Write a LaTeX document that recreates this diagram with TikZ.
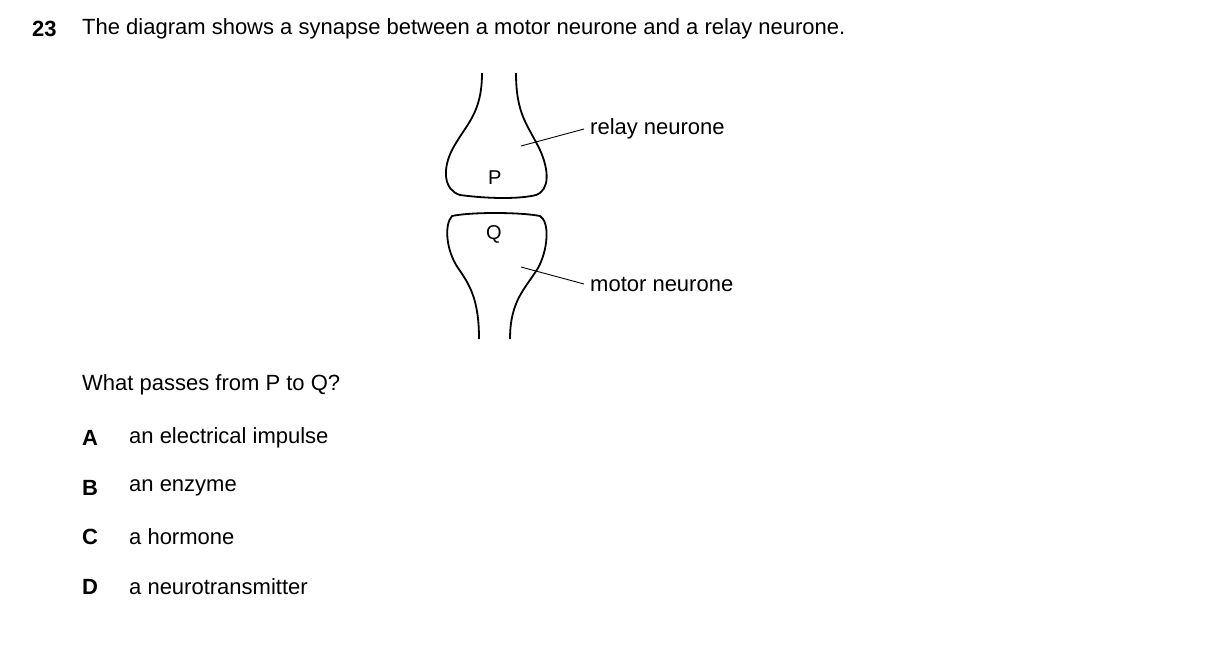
\documentclass[tikz,border=0pt]{standalone}
\usepackage{fontspec}
\setmainfont{Liberation Sans}
\usetikzlibrary{positioning}

\begin{document}
\begin{tikzpicture}[x=1pt, y=-1pt, txt/.style={anchor=west, inner sep=0pt, font=\fontsize{22}{26}\selectfont}, outline/.style={line width=1.8pt, line join=round}, pointer/.style={line width=0.9pt}]
    \useasboundingbox (0,0) rectangle (1209,651);

    %Text
    \node[txt](num) at (32,29){\textbf{23}};
    \node[txt](question) at (82,29){The diagram shows a synapse between a motor neurone and a relay neurone.};
    \node[txt](ask) at (82,385){What passes from P to Q?};
    \node[txt](A) at (82,438){\textbf{A}};
    \node[txt](Ans) at (129,438){an electrical impulse};
    \node[txt](B) at (82,488){\textbf{B}};
    \node[txt](Bns) at (129,488){an enzyme};
    \node[txt](C) at (82,537){\textbf{C}};
    \node[txt](Cns) at (129,537){a hormone};
    \node[txt](D) at (82,587){\textbf{D}};
    \node[txt](Dns) at (129,587){a neurotransmitter};

    %Neurones
    \draw[outline] (482,73) .. controls (482,115) and (465,125) .. (452,150)
        .. controls (442,170) and (444,190) .. (460,195)
        .. controls (490,199) and (520,199) .. (536,195)
        .. controls (550,190) and (549,170) .. (540,150)
        .. controls (528,125) and (516,115) .. (516,73);
    \draw[outline] (479,339) .. controls (479,300) and (470,285) .. (458,268)
        .. controls (446,250) and (444,225) .. (452,216)
        .. controls (470,212) and (520,212) .. (540,216)
        .. controls (550,222) and (548,250) .. (538,268)
        .. controls (526,288) and (510,300) .. (510,339);
    \node[txt,font=\fontsize{20}{24}\selectfont](P) at (488,178){P};
    \node[txt,font=\fontsize{20}{24}\selectfont](Q) at (486,234){Q};
    \coordinate (Pin) at (521,146);
    \coordinate (Qin) at (521,267);

    %Labels
    \node[txt](relay) at (590,129){relay neurone};
    \node[txt](motor) at (590,284){motor neurone};
    \draw[pointer] (Pin) -- ([xshift=-6pt]relay.west);
    \draw[pointer] (Qin) -- ([xshift=-6pt]motor.west);
\end{tikzpicture}
\end{document}
